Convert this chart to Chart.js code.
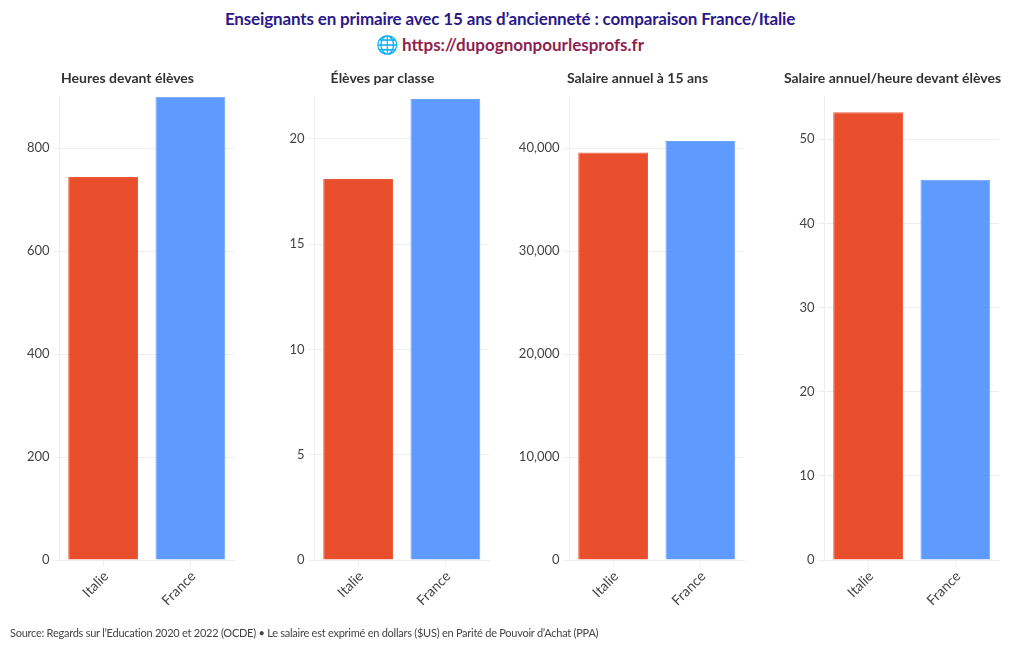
<!DOCTYPE html>
<html lang="fr"><head><meta charset="utf-8">
<script src="https://cdn.jsdelivr.net/npm/chart.js@4"></script>
<style>
html,body{margin:0;padding:0;background:#fff;width:1020px;height:650px;overflow:hidden;font-family:Lato,sans-serif}
.c{position:absolute;top:68px;width:255px;height:582px}
.t{position:absolute;left:0;width:1020px;text-align:center;font-weight:700;white-space:nowrap}
#t1{top:7px;font-size:17px;line-height:24px;letter-spacing:-0.15px;color:#2c1a8a}
#t2{top:32px;font-size:17px;line-height:24px;color:#8e1f4f}
#t2 span{font-size:18px;color:#1a9bd7}
#src{position:absolute;left:10px;top:625px;font-size:11px;line-height:16px;letter-spacing:-0.25px;color:#444;white-space:nowrap}
</style></head><body>
<div class="t" id="t1">Enseignants en primaire avec 15 ans d’ancienneté : comparaison France/Italie</div>
<div class="t" id="t2"><span>🌐</span> https://dupognonpourlesprofs.fr</div>
<div class="c" style="left:0"><canvas id="p0"></canvas></div>
<div class="c" style="left:255px"><canvas id="p1"></canvas></div>
<div class="c" style="left:510px"><canvas id="p2"></canvas></div>
<div class="c" style="left:765px"><canvas id="p3"></canvas></div>
<div id="src">Source: Regards sur l’Education 2020 et 2022 (OCDE) • Le salaire est exprimé en dollars ($US) en Parité de Pouvoir d’Achat (PPA)</div>
<script>
const categories = ['Italie','France'];
const panelTitles = ['Heures devant élèves','Élèves par classe','Salaire annuel à 15 ans','Salaire annuel/heure devant élèves'];
const heures = [744, 900];
const eleves = [18.1, 21.9];
const salaire = [39600, 40700];
const salaireHeure = [53.2, 45.2];
const axisMax = [900, 22, 45000, 55.05];
const ticksHeures = [0,200,400,600,800];
const ticksEleves = [0,5,10,15,20];
const ticksSalaire = [0,10000,20000,30000,40000];
const ticksSalaireHeure = [0,10,20,30,40,50];
const barColors = ['#e94e2d','#5f9bff'];
const barEdges = ['#eb5c3d','#6ca3ff'];
const FONT = 'Lato, sans-serif';
const gridColor = '#eeeeee';
const panelTicks = [ticksHeures,ticksEleves,ticksSalaire,ticksSalaireHeure];
const centerTitle = {id:'centerTitle',afterLayout(chart){const t=chart.titleBlock;t.left=0;t.right=chart.width;}};
[heures,eleves,salaire,salaireHeure].forEach((vals,i)=>{
  new Chart(document.getElementById('p'+i),{
    type:'bar',
    plugins:[centerTitle],
    data:{labels:categories,datasets:[{data:vals,backgroundColor:barColors,borderColor:barEdges,borderWidth:1,barPercentage:0.8,categoryPercentage:1}]},
    options:{
      locale:'en-US',responsive:true,maintainAspectRatio:false,animation:false,
      layout:{padding:{left:0,right:21,top:0,bottom:0}},
      plugins:{legend:{display:false},tooltip:{enabled:false},
        title:{display:true,text:panelTitles[i],color:'#333',font:{family:FONT,size:14,weight:'bold'},padding:{top:2,bottom:10}}},
      scales:{
        x:{afterFit(s){s.height=90},grid:{offset:false,color:gridColor,drawOnChartArea:false,tickLength:6,tickColor:gridColor},border:{color:gridColor},
           ticks:{color:'#444',font:{family:FONT,size:14},minRotation:45,maxRotation:45,padding:2,labelOffset:3}},
        y:{min:0,max:axisMax[i],afterFit(s){s.width=59.5},afterBuildTicks(s){s.ticks=panelTicks[i].map(v=>({value:v}))},
           grid:{color:gridColor,tickLength:6,tickColor:gridColor},border:{color:gridColor},
           ticks:{color:'#444',font:{family:FONT,size:13},padding:4}}
      }
    }
  });
});
</script></body></html>
